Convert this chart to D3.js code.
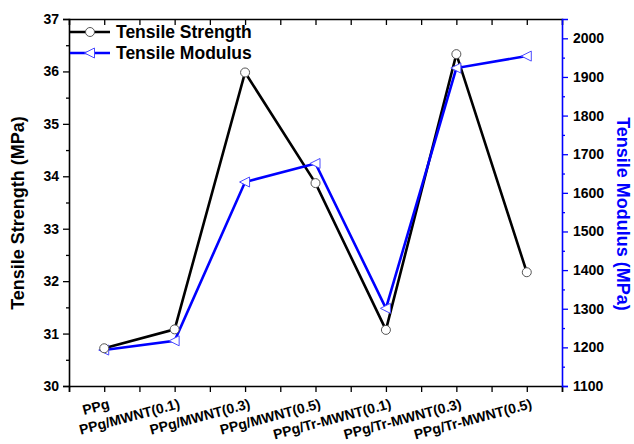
<!DOCTYPE html>
<html><head><meta charset="utf-8">
<script src="https://cdn.jsdelivr.net/npm/d3@7"></script>
<style>body{margin:0;background:#fff}svg{display:block}text{font-family:Arial,"Liberation Sans",sans-serif;font-weight:bold}</style>
</head><body><svg id="c" width="634" height="444"></svg>
<script>
const categories = ["PPg","PPg/MWNT(0.1)","PPg/MWNT(0.3)","PPg/MWNT(0.5)","PPg/Tr-MWNT(0.1)","PPg/Tr-MWNT(0.3)","PPg/Tr-MWNT(0.5)"];
const strength = [30.72, 31.08, 35.98, 33.87, 31.07, 36.33, 32.17];
const modulus = [1193, 1217, 1628, 1676, 1301, 1923, 1954];
const leftTicks = [30,31,32,33,34,35,36,37];
const rightTicks = [1100,1200,1300,1400,1500,1600,1700,1800,1900,2000];

(function(){
const svg = d3.select("#c");
const L = 69, R = 562, T = 19, B = 386;
const x = d3.scaleLinear().domain([-0.5, categories.length - 0.5]).range([L, R]);
const yL = d3.scaleLinear().domain([30, 37]).range([B, T]);
const yR = d3.scaleLinear().domain([1100, 2050]).range([B, T]);
const blue = "#0000ff";

const halfTicks = d3.range(-0.5, categories.length, 0.5);
const botG = svg.append("g").attr("transform", `translate(0,${B})`)
  .call(d3.axisBottom(x).tickValues(halfTicks).tickSize(6).tickFormat(""));
const topG = svg.append("g").attr("transform", `translate(0,${T})`)
  .call(d3.axisBottom(x).tickValues(halfTicks).tickSize(6).tickFormat(""));
[botG, topG].forEach(g => { g.select(".domain").attr("stroke", "#000").attr("stroke-width", 1.6);
  g.selectAll(".tick line").attr("stroke", "#000").attr("stroke-width", 1.3); });
topG.selectAll(".tick").filter(d => d === -0.5 || d === categories.length - 0.5).remove();

categories.forEach((c, i) => {
  svg.append("text").attr("transform", `translate(${x(i) + 6},${B + 22}) rotate(-15)`)
    .attr("text-anchor", "end").attr("font-size", 14).attr("fill", "#000").text(c);
});

const lMinor = svg.append("g").attr("transform", `translate(${L},0)`)
  .call(d3.axisLeft(yL).tickValues(d3.range(30.5, 37, 1)).tickSize(3).tickFormat(""));
const lAxis = svg.append("g").attr("transform", `translate(${L},0)`)
  .call(d3.axisLeft(yL).tickValues(leftTicks).tickSize(6).tickPadding(4).tickFormat(d3.format("d")));
lAxis.select(".domain").attr("stroke", "#000").attr("stroke-width", 1.6);
lMinor.select(".domain").remove();
[lMinor, lAxis].forEach(g => g.selectAll(".tick line").attr("stroke-width", 1.3));
lAxis.selectAll("text").attr("font-size", 14).attr("font-family", "Arial, Liberation Sans, sans-serif").attr("font-weight", "bold").attr("fill", "#000");

const rMinor = svg.append("g").attr("transform", `translate(${R},0)`)
  .call(d3.axisRight(yR).tickValues(d3.range(1150, 2050, 100)).tickSize(3).tickFormat(""));
const rAxis = svg.append("g").attr("transform", `translate(${R},0)`)
  .call(d3.axisRight(yR).tickValues(rightTicks).tickSize(6).tickPadding(5).tickFormat(d3.format("d")));
rMinor.select(".domain").remove();
rAxis.select(".domain").attr("stroke", blue).attr("stroke-width", 1.6);
[rMinor, rAxis].forEach(g => g.selectAll(".tick line").attr("stroke", blue).attr("stroke-width", 1.3));
rAxis.selectAll("text").attr("font-size", 14).attr("font-family", "Arial, Liberation Sans, sans-serif").attr("font-weight", "bold").attr("fill", "#000");

svg.append("text").attr("transform", `translate(24,213) rotate(-90)`)
  .attr("text-anchor", "middle").attr("font-size", 18).attr("fill", "#000").text("Tensile Strength (MPa)");
svg.append("text").attr("transform", `translate(617,214) rotate(90)`)
  .attr("text-anchor", "middle").attr("font-size", 18).attr("fill", blue).text("Tensile Modulus (MPa)");

const lineS = d3.line().x((d, i) => x(i)).y(d => yL(d));
const lineM = d3.line().x((d, i) => x(i)).y(d => yR(d));
svg.append("path").datum(strength).attr("d", lineS).attr("fill", "none").attr("stroke", "#000").attr("stroke-width", 2.6);
svg.append("path").datum(modulus).attr("d", lineM).attr("fill", "none").attr("stroke", blue).attr("stroke-width", 2.6);

const tri = (cx, cy) => `M${cx - 5.5},${cy} L${cx + 4.5},${cy - 5} L${cx + 4.5},${cy + 5} Z`;
svg.selectAll(".tm").data(modulus).enter().append("path").attr("class", "tm")
  .attr("d", (d, i) => tri(x(i), yR(d))).attr("fill", "#fff").attr("stroke", "#4a4aff").attr("stroke-width", 1);
svg.selectAll(".cm").data(strength).enter().append("circle").attr("class", "cm")
  .attr("cx", (d, i) => x(i)).attr("cy", d => yL(d)).attr("r", 4.5)
  .attr("fill", "#fff").attr("stroke", "#555").attr("stroke-width", 1);

const leg = [{name: "Tensile Strength", color: "#000", y: 32, m: "c"}, {name: "Tensile Modulus", color: blue, y: 53, m: "t"}];
leg.forEach(l => {
  svg.append("line").attr("x1", L + 1).attr("x2", L + 41).attr("y1", l.y).attr("y2", l.y).attr("stroke", l.color).attr("stroke-width", 2.6);
  if (l.m === "c") svg.append("circle").attr("cx", L + 21).attr("cy", l.y).attr("r", 4.5).attr("fill", "#fff").attr("stroke", "#555");
  else svg.append("path").attr("d", tri(L + 21, l.y)).attr("fill", "#fff").attr("stroke", "#4a4aff");
  svg.append("text").attr("x", L + 47).attr("y", l.y + 6).attr("font-size", 17.5).attr("fill", "#000").text(l.name);
});
})();
</script></body></html>
